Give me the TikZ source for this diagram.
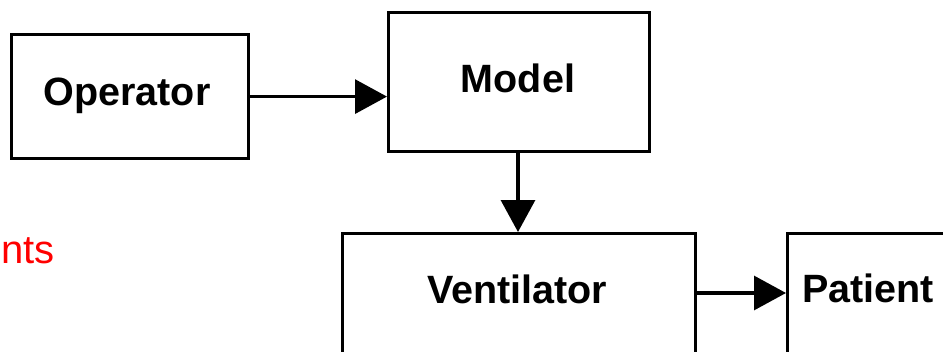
\documentclass[tikz,border=0pt]{standalone}
\usepackage{fontspec}
\setmainfont{Liberation Sans}
\usetikzlibrary{arrows.meta}

\begin{document}
\begin{tikzpicture}[x=1pt,y=-1pt,
  box/.style={draw=black,line width=3.2pt,rectangle,inner sep=0pt,anchor=north west},
  lbl/.style={font=\fontsize{39.5}{47}\selectfont\bfseries,inner sep=0pt,anchor=base},
  flow/.style={line width=3.2pt,-{Triangle[length=32pt,width=34pt]}}]
  \useasboundingbox (0,0) rectangle (943,351);
  \clip (0,0) rectangle (943,351);

  % boxes
  \node[box,minimum width=237pt,minimum height=124pt] (op) at (10,33) {};
  \node[box,minimum width=261pt,minimum height=139pt] (mod) at (387,11) {};
  \node[box,minimum width=353pt,minimum height=200pt] (vent) at (341,232) {};
  \node[box,minimum width=250pt,minimum height=200pt] (pat) at (786,232) {};

  % box labels
  \node[lbl] (opl) at (127,105) {Operator};
  \node[lbl] (modl) at (518,92) {Model};
  \node[lbl] (ventl) at (517,303) {Ventilator};
  \node[lbl] (patl) at (868,302) {Patient};

  % partly visible caption on the left
  \node[anchor=base east,inner sep=0pt,text=red,font=\fontsize{40}{48}\selectfont] (req) at (55,263) {nts};

  % connectors
  \coordinate (vp) at (694,293);
  \draw[flow] (op.east) -- (op.east -| mod.west);
  \draw[flow] (modl |- mod.south) -- (modl |- vent.north);
  \draw[flow] (vp) -- (vp -| pat.west);
\end{tikzpicture}
\end{document}
